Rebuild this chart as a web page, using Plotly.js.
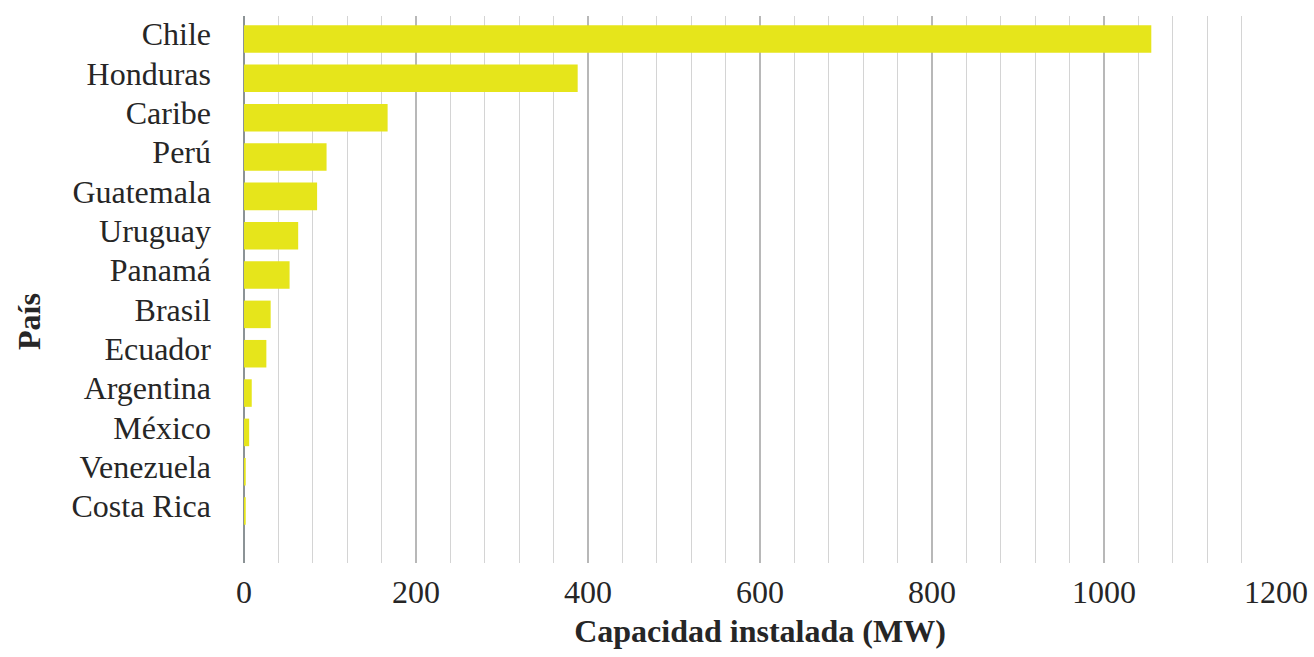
<!DOCTYPE html>
<html>
<head>
<meta charset="utf-8">
<script src="https://cdn.plot.ly/plotly-3.0.1.min.js"></script>
<style>html,body{margin:0;padding:0;background:#fff;}#chart{width:1314px;height:657px;}</style>
</head>
<body>
<div id="chart"></div>
<script>
const countries = ["Chile","Honduras","Caribe","Perú","Guatemala","Uruguay","Panamá","Brasil","Ecuador","Argentina","México","Venezuela","Costa Rica"];
const capacityMW = [1055, 388, 167, 96, 85, 63, 53, 31, 26, 9, 6, 2, 2];
const xTickValues = [0, 200, 400, 600, 800, 1000, 1200];
const xTitle = "Capacidad instalada (MW)";
const yTitle = "País";

const font = "Liberation Serif, Times New Roman, serif";
const trace = {
  type: "bar",
  orientation: "h",
  x: capacityMW,
  y: countries,
  marker: {color: "#E6E51B"},
  hoverinfo: "x+y"
};
const layout = {
  width: 1314, height: 657,
  margin: {l: 244, r: 38, t: 16, b: 94},
  paper_bgcolor: "#fff", plot_bgcolor: "#fff",
  bargap: 0.3,
  showlegend: false,
  font: {family: font, size: 32, color: "#262626"},
  xaxis: {
    range: [0, 1200],
    tickvals: xTickValues,
    ticktext: xTickValues.map(String),
    showgrid: true, gridcolor: "#b8b8b8", gridwidth: 1.3,
    minor: {dtick: 40, showgrid: true, gridcolor: "#d4d4d4", gridwidth: 1.3},
    zeroline: true, zerolinecolor: "#8c9396", zerolinewidth: 1.5,
    showline: false, ticks: "",
    ticklabelstandoff: 7,
    tickfont: {family: font, size: 32, color: "#262626"},
    title: {text: "<b>" + xTitle + "</b>", font: {family: font, size: 32, color: "#262626"}, standoff: 10}
  },
  yaxis: {
    type: "category",
    categoryorder: "array", categoryarray: countries,
    range: [13.32, -0.585],
    showgrid: false, zeroline: false, showline: false, ticks: "",
    ticklabelstandoff: 32,
    ticklabelshift: 5,
    tickfont: {family: font, size: 32, color: "#262626"}
  },
  annotations: [{
    text: "<b>" + yTitle + "</b>",
    xref: "paper", yref: "paper", x: 0, y: 0.4406,
    xshift: -235, showarrow: false, textangle: -90,
    font: {family: font, size: 32, color: "#262626"}
  }]
};
Plotly.newPlot("chart", [trace], layout, {displayModeBar: false, staticPlot: true});
</script>
</body>
</html>
